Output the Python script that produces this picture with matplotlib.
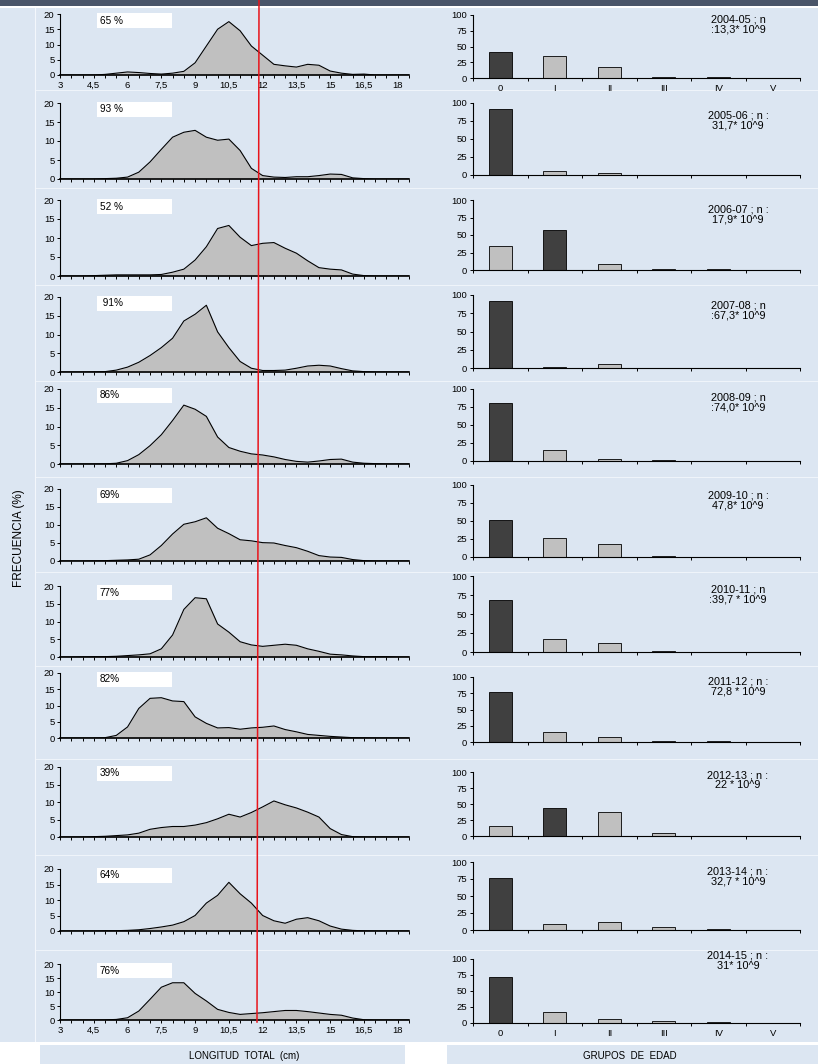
import numpy as np
import matplotlib
matplotlib.use('Agg')
import matplotlib.pyplot as plt
from matplotlib.patches import Rectangle
from matplotlib.lines import Line2D

plt.rcParams['font.family'] = ['Liberation Sans', 'DejaVu Sans']

# tallas (cm), clases de 0,5 cm
longitud = [3.0, 3.5, 4.0, 4.5, 5.0, 5.5, 6.0, 6.5, 7.0, 7.5, 8.0, 8.5, 9.0, 9.5, 10.0, 10.5,
            11.0, 11.5, 12.0, 12.5, 13.0, 13.5, 14.0, 14.5, 15.0, 15.5, 16.0, 16.5, 17.0, 17.5, 18.0, 18.5]
etiquetas_x = ['3', '4,5', '6', '7,5', '9', '10,5', '12', '13,5', '15', '16,5', '18']

campanas = ['2004-05', '2005-06', '2006-07', '2007-08', '2008-09', '2009-10',
            '2010-11', '2011-12', '2012-13', '2013-14', '2014-15']
textos_n = ['2004-05 ; n\n:13,3* 10^9', '2005-06 ; n :\n31,7* 10^9', '2006-07 ; n :\n17,9* 10^9',
            '2007-08 ; n\n:67,3* 10^9', '2008-09 ; n\n:74,0* 10^9', '2009-10 ; n :\n47,8* 10^9',
            '2010-11 ; n\n:39,7 * 10^9', '2011-12 ; n :\n72,8 * 10^9', '2012-13 ; n :\n22 * 10^9',
            '2013-14 ; n :\n32,7 * 10^9', '2014-15 ; n :\n31* 10^9']
porcentajes = ['65 %', '93 %', '52 %', ' 91%', '86%', '69%', '77%', '82%', '39%', '64%', '76%']

# frecuencia de tallas (%) por campaña
f_0405 = [0, 0, 0, 0, 0.2, 0.6, 1.0, 0.8, 0.5, 0.3, 0.6, 1.2, 4.0, 9.5, 15.0, 17.5,
          14.5, 9.5, 6.5, 3.5, 3.0, 2.6, 3.5, 3.2, 1.3, 0.6, 0.2, 0.3, 0, 0, 0, 0]
f_0506 = [0, 0, 0, 0, 0.1, 0.2, 0.5, 1.8, 4.5, 7.8, 11.0, 12.3, 12.8, 11.0, 10.2, 10.5,
          7.5, 2.8, 0.9, 0.5, 0.4, 0.6, 0.6, 0.9, 1.3, 1.2, 0.3, 0.1, 0, 0, 0, 0]
f_0607 = [0, 0, 0, 0.1, 0.2, 0.3, 0.3, 0.3, 0.3, 0.4, 1.0, 1.8, 4.2, 7.7, 12.5, 13.3,
          10.2, 8.0, 8.6, 8.8, 7.3, 6.0, 4.0, 2.2, 1.8, 1.6, 0.5, 0.1, 0, 0, 0, 0]
f_0708 = [0, 0, 0, 0.05, 0.1, 0.5, 1.3, 2.6, 4.4, 6.5, 9.0, 13.6, 15.4, 17.8, 10.7, 6.5,
          2.8, 1.0, 0.4, 0.4, 0.5, 1.0, 1.6, 1.8, 1.6, 0.9, 0.3, 0.1, 0, 0, 0, 0]
f_0809 = [0, 0, 0, 0, 0.05, 0.2, 0.9, 2.5, 4.9, 7.8, 11.6, 15.7, 14.6, 12.7, 7.2, 4.4,
          3.4, 2.7, 2.4, 1.9, 1.2, 0.7, 0.5, 0.8, 1.2, 1.3, 0.5, 0.2, 0.1, 0, 0, 0]
f_0910 = [0, 0, 0, 0.05, 0.1, 0.2, 0.3, 0.5, 1.7, 4.3, 7.5, 10.2, 10.9, 12.0, 9.1, 7.6,
          5.9, 5.6, 5.1, 5.0, 4.3, 3.7, 2.7, 1.5, 1.1, 1.0, 0.4, 0.1, 0, 0, 0, 0]
f_1011 = [0, 0, 0.05, 0.1, 0.1, 0.2, 0.4, 0.6, 0.9, 2.3, 6.2, 13.4, 16.7, 16.4, 9.3, 7.0,
          4.3, 3.4, 3.0, 3.3, 3.6, 3.3, 2.3, 1.6, 0.8, 0.6, 0.3, 0.1, 0.1, 0.1, 0, 0]
f_1112 = [0, 0, 0, 0, 0.1, 0.8, 3.4, 9.1, 12.2, 12.4, 11.4, 11.2, 6.5, 4.5, 3.1, 3.2,
          2.7, 3.1, 3.3, 3.7, 2.6, 1.9, 1.1, 0.8, 0.5, 0.3, 0.1, 0.05, 0, 0, 0, 0]
f_1213 = [0, 0, 0, 0.1, 0.2, 0.4, 0.6, 1.1, 2.2, 2.7, 3.0, 3.0, 3.4, 4.1, 5.2, 6.5,
          5.7, 7.0, 8.6, 10.3, 9.2, 8.3, 7.1, 5.7, 2.4, 0.7, 0.1, 0, 0, 0, 0, 0]
f_1314 = [0, 0, 0, 0, 0.1, 0.1, 0.2, 0.4, 0.8, 1.3, 1.9, 3.0, 5.0, 9.0, 11.5, 15.7,
          12.0, 9.0, 5.0, 3.3, 2.5, 3.8, 4.3, 3.3, 1.6, 0.6, 0.2, 0.05, 0, 0, 0, 0]
f_1415 = [0, 0, 0, 0, 0.05, 0.2, 0.8, 3.2, 7.4, 11.7, 13.3, 13.3, 9.5, 6.8, 3.8, 2.7,
          2.0, 2.3, 2.6, 3.0, 3.4, 3.4, 3.0, 2.5, 2.0, 1.7, 0.7, 0.1, 0, 0, 0, 0]
frecuencias = [f_0405, f_0506, f_0607, f_0708, f_0809, f_0910,
               f_1011, f_1112, f_1213, f_1314, f_1415]

# composición por grupos de edad (%)
edades = ['0', 'I', 'II', 'III', 'IV', 'V']
edad_pct = [
    [42, 35, 18, 2, 1, 0],
    [92, 5, 3, 0.5, 0, 0],
    [35, 57, 8, 1, 1, 0],
    [92, 2, 5, 0.5, 0.5, 0],
    [80, 15, 3, 2, 0.5, 0],
    [52, 27, 18, 1.5, 0.5, 0],
    [69, 17, 12, 1.5, 0.5, 0],
    [77, 15, 8, 1, 1, 0],
    [16, 43, 38, 4, 0.5, 0],
    [76, 9, 12, 4, 1, 0],
    [72, 17, 6, 3, 1, 0],
]

W, H = 818, 1064
AZUL = '#dce6f2'

# filas en pixeles: (arriba, abajo)
filas_izq = [(14, 75), (103, 179), (200, 276), (297, 372), (389, 464), (489, 561),
             (586, 657), (673, 738), (767, 837), (869, 931), (964, 1020)]
filas_der = [(15, 78), (103, 175), (200, 270), (295, 368), (389, 461), (485, 557),
             (576, 652), (677, 742), (772, 836), (862, 930), (959, 1023)]
texto_y = [20, 116, 210, 305, 398, 495, 589, 681, 775, 871, 956]
separadores = [90, 188, 285, 381, 477, 572, 666, 759, 855, 950]


def fx(px):
    return px / W


def fy(py):
    return 1 - py / H


fig = plt.figure(figsize=(W / 100, H / 100), dpi=100, facecolor=AZUL)

# fondo: barra superior, separadores y franja inferior
fig.add_artist(Rectangle((0, fy(6)), 1, 6 / H, transform=fig.transFigure,
                         fc='#4a5569', ec='none', zorder=-5))
fig.add_artist(Rectangle((0, fy(8)), 1, 2 / H, transform=fig.transFigure,
                         fc='white', ec='none', zorder=-5))
for s in separadores:
    fig.add_artist(Line2D([fx(35), 1], [fy(s), fy(s)], color='#f3f7fc', lw=0.6, zorder=-4))
fig.add_artist(Line2D([fx(35), fx(35)], [fy(8), fy(1042)], color='#f3f7fc', lw=0.8, zorder=-4))
fig.add_artist(Rectangle((0, 0), 1, 22 / H, transform=fig.transFigure,
                         fc='white', ec='none', zorder=-4))
fig.add_artist(Rectangle((fx(40), 0), 365 / W, 19 / H, transform=fig.transFigure,
                         fc=AZUL, ec='none', zorder=-3))
fig.add_artist(Rectangle((fx(447), 0), (W - 447) / W, 19 / H, transform=fig.transFigure,
                         fc=AZUL, ec='none', zorder=-3))

ticks_x = longitud
labels_x = []
for v in longitud:
    lab = ''
    for e in etiquetas_x:
        if float(e.replace(',', '.')) == v:
            lab = e
    labels_x.append(lab)

for i in range(len(campanas)):
    # distribución de tallas
    top, bot = filas_izq[i]
    ax = fig.add_axes([fx(60), fy(bot), 349 / W, (bot - top) / H])
    ax.set_facecolor('none')
    ax.fill_between(longitud, frecuencias[i], color='#c0c0c0', lw=0)
    ax.plot(longitud, frecuencias[i], color='black', lw=0.8)
    ax.set_xlim(3, 18.5)
    ax.set_ylim(0, 20)
    ax.set_yticks([0, 5, 10, 15, 20])
    ax.set_xticks(ticks_x)
    if i == 0 or i == len(campanas) - 1:
        ax.set_xticklabels(labels_x)
    else:
        ax.set_xticklabels([])
    for sp in ['top', 'right']:
        ax.spines[sp].set_visible(False)
    ax.spines['left'].set_linewidth(0.8)
    ax.spines['bottom'].set_linewidth(1.2)
    ax.tick_params(axis='both', direction='out', length=2.5, width=0.7,
                   labelsize=6.8, pad=1.5, colors='black')

    fig.add_artist(Rectangle((fx(97), fy(top + 14)), 75 / W, 15 / H,
                             transform=fig.transFigure, fc='white', ec='none', zorder=2))
    fig.text(fx(100), fy(top + 6.5), porcentajes[i], fontsize=7.2, va='center',
             ha='left', zorder=3)

    # grupos de edad
    top, bot = filas_der[i]
    ax2 = fig.add_axes([fx(473), fy(bot), 327 / W, (bot - top) / H])
    ax2.set_facecolor('none')
    vals = edad_pct[i]
    jmax = int(np.argmax(vals))
    colores = ['#404040' if j == jmax else '#c0c0c0' for j in range(len(edades))]
    ax2.bar(range(len(edades)), vals, width=0.42, color=colores,
            edgecolor='black', linewidth=0.6)
    ax2.set_xlim(-0.5, 5.5)
    ax2.set_ylim(0, 100)
    ax2.set_yticks([0, 25, 50, 75, 100])
    ax2.set_xticks(np.arange(-0.5, 6, 1))
    ax2.set_xticklabels([])
    ax2.set_xticks(range(len(edades)), minor=True)
    if i == 0 or i == len(campanas) - 1:
        ax2.set_xticklabels(edades, minor=True)
    else:
        ax2.set_xticklabels([], minor=True)
    for sp in ['top', 'right']:
        ax2.spines[sp].set_visible(False)
    ax2.spines['left'].set_linewidth(0.8)
    ax2.spines['bottom'].set_linewidth(0.8)
    ax2.tick_params(axis='both', which='both', direction='out', width=0.7,
                    labelsize=6.8, pad=2, colors='black')
    ax2.tick_params(axis='both', which='major', length=2.5)
    ax2.tick_params(axis='x', which='minor', length=0, pad=4)

    fig.text(fx(738), fy(texto_y[i] - 5), textos_n[i], fontsize=7.8, ha='center',
             va='top', linespacing=1.0)

fig.text(fx(19), fy(538), 'FRECUENCIA (%)', rotation=90, fontsize=8.5,
         ha='center', va='center')
fig.text(fx(244), fy(1056), 'LONGITUD  TOTAL  (cm)', fontsize=7, ha='center', va='center')
fig.text(fx(630), fy(1056), 'GRUPOS  DE  EDAD', fontsize=7, ha='center', va='center')

# talla de referencia
fig.add_artist(Line2D([fx(259), fx(257)], [1, fy(1022)], color='#e8141b', lw=1.1, zorder=10))

fig.savefig('out.png', dpi=100, facecolor=fig.get_facecolor())
